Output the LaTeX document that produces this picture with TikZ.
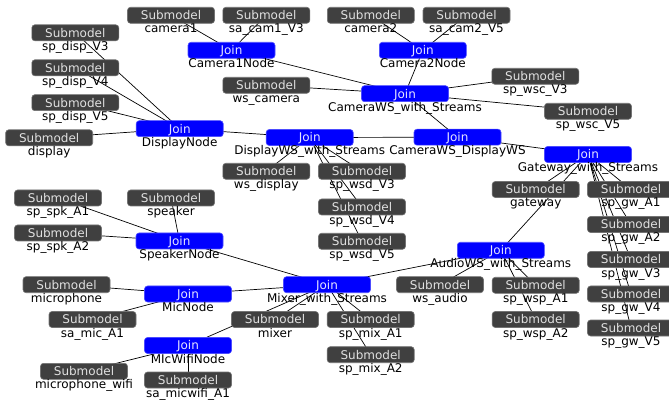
\documentclass[tikz,border=0pt]{standalone}
\usepackage{fontspec}
\setmainfont{DejaVu Sans}
\pgfdeclarelayer{background}
\pgfsetlayers{background,main}
\definecolor{subgray}{HTML}{404040}
\definecolor{joinblue}{HTML}{0000FF}
\tikzset{
  box/.style={rounded corners=3pt, line width=.6pt, minimum width=87pt,
    minimum height=16pt, inner sep=0pt, text height=8.7pt, text depth=0pt,
    font=\fontsize{12}{14}\selectfont},
  submodel/.style={box, fill=subgray, draw=black!55, text=white!88!black},
  joinbox/.style={box, fill=joinblue, draw=blue!70!white, text=white!90!blue},
  every label/.style={inner sep=0pt, text height=9pt, text depth=3pt,
    font=\fontsize{12}{14}\selectfont, text=black},
  link/.style={line width=.7pt, black}
}

\begin{document}
\begin{tikzpicture}
  [x=1pt, y=-1pt, label distance=0pt]
  \useasboundingbox (0,0) rectangle (669,403);
    \foreach \nm/\lbl/\x/\y in {j1/Camera1Node/231.5/50.3,
        j2/Camera2Node/422.8/50.3, j3/CameraWS\_with\_Streams/405/93.7,
        j4/DisplayNode/179.7/128.7, j5/DisplayWS\_with\_Streams/309.7/137.5,
        j6/CameraWS\_DisplayWS/457.5/137.2, j7/Gateway\_with\_Streams/588/154.5,
        j8/SpeakerNode/179.5/241, j9/AudioWS\_with\_Streams/500.8/250.3,
        j10/Mixer\_with\_Streams/327/284.7, j11/MicNode/188/294,
        j12/MIcWifiNode/188/345.5}{
      \node[joinbox, label={below:\lbl}] (\nm) at (\x,\y) {Join};}
    \foreach \nm/\lbl/\x/\y in {s1/camera1/171/15.3, s2/sa\_cam1\_V3/266.3/15.3,
        s3/camera2/370.8/15.3, s4/sa\_cam2\_V5/466.5/15.3,
        s5/sp\_disp\_V3/75.3/32.8, s6/sp\_disp\_V4/75.3/67.8,
        s7/sp\_disp\_V5/75.3/102.7, s8/display/49.2/137.8,
        s9/ws\_camera/266.3/85.3, s10/sp\_wsc\_V3/535.3/76.3,
        s11/sp\_wsc\_V5/588/111.3, s12/ws\_display/266.3/171.3,
        s13/sp\_wsd\_V3/362/171.3, s14/sp\_wsd\_V4/362/207,
        s15/sp\_wsd\_V5/362/241.3, s16/gateway/535.7/189.5,
        s17/sp\_gw\_A1/631/189.5, s18/sp\_gw\_A2/631/224.5,
        s19/sp\_gw\_V3/631/259.5, s20/sp\_gw\_V4/631/294,
        s21/sp\_gw\_V5/631/328, s22/sp\_spk\_A1/58/198,
        s23/speaker/171/198, s24/sp\_spk\_A2/58/233,
        s25/microphone/66.5/284.7, s26/sa\_mic\_A1/92.5/319.5,
        s27/mixer/275/319.5, s28/sp\_mix\_A1/370.7/319.5,
        s29/sp\_mix\_A2/370.7/354.7, s30/ws\_audio/440/284.7,
        s31/sp\_wsp\_A1/535.7/285.3, s32/sp\_wsp\_A2/535.7/319.5,
        s33/microphone\_wifi/84/371.3, s34/sa\_micwifi\_A1/188/380}{
      \node[submodel, label={below:\lbl}] (\nm) at (\x,\y) {Submodel};}
  \begin{pgfonlayer}{background}
    \foreach \to/\from in {s1/j1,s2/j1,s3/j2,s4/j2,j1/j3,j2/j3,s9/j3,
                  s10/j3,s11/j3,j3/j6,s5/j4,s6/j4,s7/j4,s8/j4,j4/j5,
                  j5/j6,s12/j5,s13/j5,s14/j5,s15/j5,j6/j7,s16/j7,
                  s17/j7,s18/j7,s19/j7,s20/j7,s21/j7,j9/j7,
                  s22/j8,s23/j8,s24/j8,j8/j10,j11/j10,s25/j11,s26/j11,
                  j12/j10,s27/j10,s28/j10,s29/j10,j10/j9,s30/j9,
                  s31/j9,s32/j9,s33/j12,s34/j12}{
      \draw[link] (\to.center) -- (\from.center);}
  \end{pgfonlayer}
\end{tikzpicture}
\end{document}
